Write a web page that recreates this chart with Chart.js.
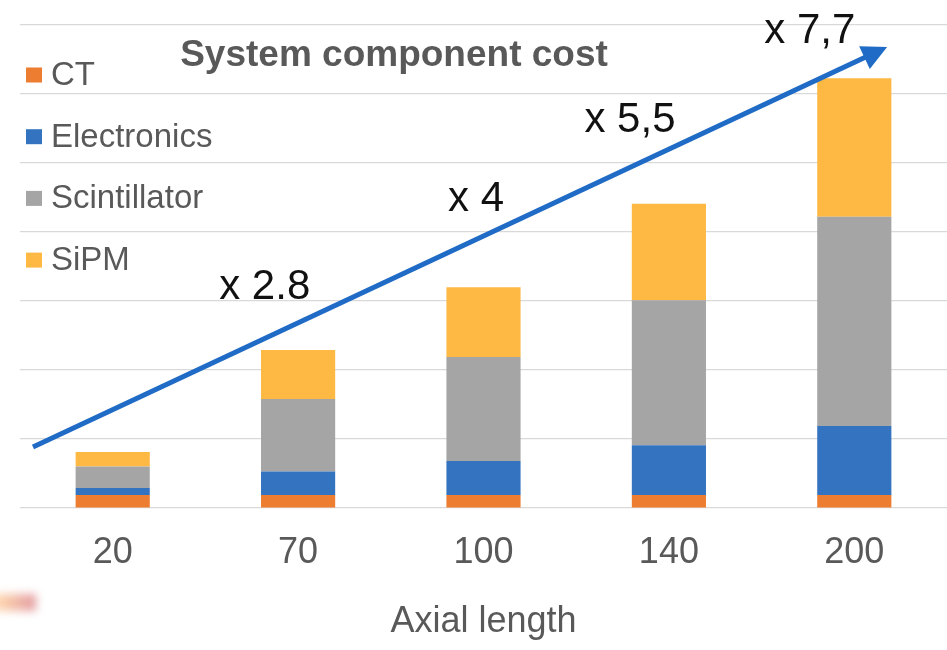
<!DOCTYPE html>
<html>
<head>
<meta charset="utf-8">
<script src="https://cdn.jsdelivr.net/npm/chart.js@4.4.1/dist/chart.umd.min.js"></script>
<style>
  html, body { margin: 0; padding: 0; background: #ffffff; }
  #wrap { width: 947px; height: 650px; position: relative; }
</style>
</head>
<body>
<div id="wrap"><canvas id="costChart"></canvas></div>
<script>
// axial length categories and cost per component (stacked, arbitrary units)
const axialLengths = ['20', '70', '100', '140', '200'];
const ctCost = [0.19, 0.19, 0.19, 0.19, 0.19];
const electronicsCost = [0.10, 0.34, 0.49, 0.72, 1.00];
const scintillatorCost = [0.31, 1.05, 1.51, 2.10, 3.03];
const sipmCost = [0.21, 0.71, 1.01, 1.40, 2.01];
const growthLabels = ['x 2.8', 'x 4', 'x 5,5', 'x 7,7'];

const FONT = "'Liberation Sans', Arial, sans-serif";
const GREY_TEXT = '#595959';

// title, legend, growth arrow and its labels
const overlay = {
  id: 'overlay',
  afterDatasetsDraw(chart) {
    const { ctx, scales: { x, y } } = chart;
    // arrow from the left edge up past the last bar (category index / value units)
    const x0 = x.getPixelForValue(-0.43), y0 = y.getPixelForValue(0.885);
    const x1 = x.getPixelForValue(4.177), y1 = y.getPixelForValue(6.68);
    const ang = Math.atan2(y1 - y0, x1 - x0);
    const headLen = 25, headHalf = 12.5;
    const bx = x1 - headLen * Math.cos(ang), by = y1 - headLen * Math.sin(ang);
    ctx.save();
    ctx.strokeStyle = '#1f6bc6';
    ctx.fillStyle = '#1f6bc6';
    ctx.lineWidth = 5;
    ctx.beginPath();
    ctx.moveTo(x0, y0);
    ctx.lineTo(bx + 2 * Math.cos(ang), by + 2 * Math.sin(ang));
    ctx.stroke();
    ctx.beginPath();
    ctx.moveTo(x1, y1);
    ctx.lineTo(bx - headHalf * Math.sin(ang), by + headHalf * Math.cos(ang));
    ctx.lineTo(bx + headHalf * Math.sin(ang), by - headHalf * Math.cos(ang));
    ctx.closePath();
    ctx.fill();

    // growth factors along the arrow
    const spots = [[0.82, 3.2], [1.96, 4.47], [2.79, 5.62], [3.76, 6.9]];
    ctx.fillStyle = '#111111';
    ctx.font = '42px ' + FONT;
    ctx.textAlign = 'center';
    ctx.textBaseline = 'middle';
    growthLabels.forEach((txt, i) => {
      ctx.fillText(txt, x.getPixelForValue(spots[i][0]), y.getPixelForValue(spots[i][1]));
    });
    ctx.restore();
  },
  afterDraw(chart) {
    const { ctx, chartArea } = chart;
    ctx.save();
    // chart title
    ctx.fillStyle = GREY_TEXT;
    ctx.font = 'bold 37px ' + FONT;
    ctx.textAlign = 'center';
    ctx.textBaseline = 'middle';
    ctx.fillText('System component cost', 394, chartArea.top + 31);

    // legend, top-left inside the plot
    ctx.font = '33px ' + FONT;
    ctx.textAlign = 'left';
    chart.data.datasets.forEach((ds, i) => {
      const cy = chartArea.top + 50 + i * 61.7;
      ctx.fillStyle = ds.backgroundColor;
      ctx.fillRect(chartArea.left + 6, cy - 7.5, 16, 15);
      ctx.fillStyle = GREY_TEXT;
      ctx.fillText(ds.label, chartArea.left + 31, cy + 1);
    });

    // soft pointer smudge in the lower left corner
    ctx.filter = 'blur(4px)';
    const g = ctx.createLinearGradient(0, 0, 38, 0);
    g.addColorStop(0, 'rgba(252, 205, 160, 0.85)');
    g.addColorStop(1, 'rgba(222, 140, 150, 0.9)');
    ctx.fillStyle = g;
    ctx.fillRect(-6, 594, 42, 17);
    ctx.restore();
  }
};

const ctx = document.getElementById('costChart').getContext('2d');
const costChart = new Chart(ctx, {
  type: 'bar',
  data: {
    labels: axialLengths,
    datasets: [
      { label: 'CT', data: ctCost, backgroundColor: '#ed7d31' },
      { label: 'Electronics', data: electronicsCost, backgroundColor: '#3473c0' },
      { label: 'Scintillator', data: scintillatorCost, backgroundColor: '#a5a5a5' },
      { label: 'SiPM', data: sipmCost, backgroundColor: '#fdb944' }
    ]
  },
  options: {
    responsive: true,
    maintainAspectRatio: false,
    animation: false,
    barPercentage: 0.4,
    categoryPercentage: 1,
    layout: { padding: { top: 25, right: 0, left: 0, bottom: 0 } },
    plugins: {
      legend: { display: false },
      tooltip: { enabled: false }
    },
    scales: {
      x: {
        stacked: true,
        grid: { display: false },
        border: { display: false },
        ticks: { color: GREY_TEXT, font: { family: FONT, size: 36 }, padding: 15 },
        title: {
          display: true,
          text: 'Axial length',
          color: GREY_TEXT,
          font: { family: FONT, size: 36 },
          padding: { top: 0, bottom: 6 }
        },
        afterFit(scale) { scale.height = 142; }
      },
      y: {
        stacked: true,
        min: 0,
        max: 7,
        ticks: { display: false, stepSize: 1 },
        grid: { color: '#d9d9d9', lineWidth: 1.2, drawTicks: false },
        border: { display: false },
        afterFit(scale) { scale.width = 20; }
      }
    }
  },
  plugins: [overlay]
});
</script>
</body>
</html>
